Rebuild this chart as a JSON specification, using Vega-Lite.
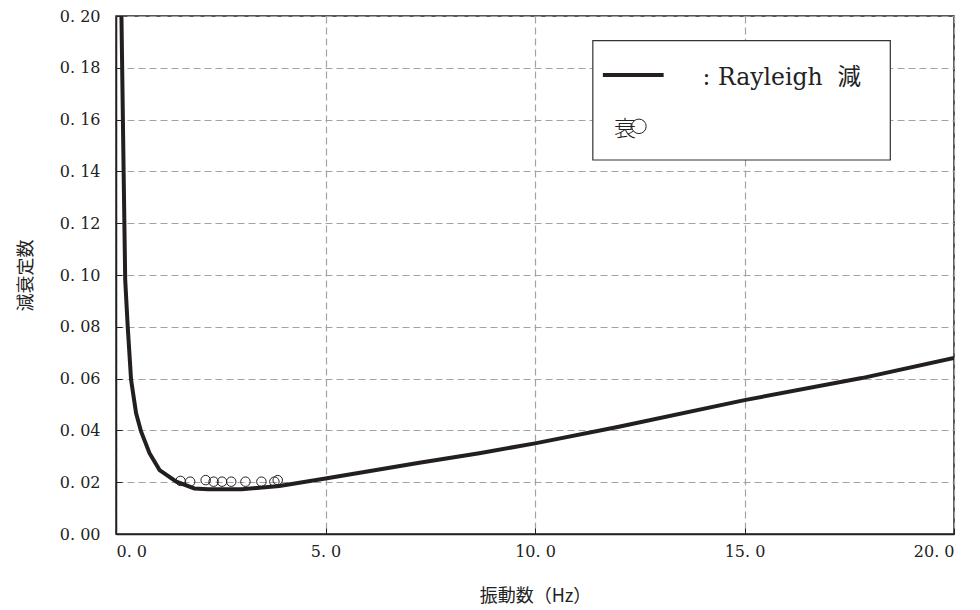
{
  "$schema": "https://vega.github.io/schema/vega-lite/v6.json",
  "autosize": "none",
  "width": 838,
  "height": 518,
  "padding": {"left": 116, "top": 16, "right": 26, "bottom": 76},
  "background": "white",
  "config": {
    "view": {"stroke": "#222", "strokeWidth": 1.5},
    "axis": {
      "labelFont": "DejaVu Serif",
      "labelFontSize": 16,
      "labelColor": "#222",
      "titleFont": "Noto Sans CJK JP",
      "titleFontWeight": "normal",
      "titleFontSize": 18,
      "titleColor": "#222",
      "domainColor": "#222",
      "domainWidth": 1.5,
      "tickColor": "#222",
      "gridColor": "#a3a3a3",
      "gridDash": [7, 4],
      "gridWidth": 1.2
    }
  },
  "datasets": {
    "curve": [
      {"f": 0.13, "h": 0.2},
      {"f": 0.18, "h": 0.142},
      {"f": 0.22, "h": 0.098},
      {"f": 0.28, "h": 0.08},
      {"f": 0.36, "h": 0.0595},
      {"f": 0.48, "h": 0.0466},
      {"f": 0.6, "h": 0.0395},
      {"f": 0.8, "h": 0.0312},
      {"f": 1.04, "h": 0.0247},
      {"f": 1.44, "h": 0.0202},
      {"f": 1.87, "h": 0.0176},
      {"f": 2.2, "h": 0.0173},
      {"f": 3.0, "h": 0.0173},
      {"f": 3.9, "h": 0.0185},
      {"f": 5.0, "h": 0.0214},
      {"f": 7.24, "h": 0.0275},
      {"f": 8.67, "h": 0.0312},
      {"f": 10.0, "h": 0.035},
      {"f": 12.0, "h": 0.0414},
      {"f": 15.0, "h": 0.0517},
      {"f": 17.8, "h": 0.0602},
      {"f": 20.0, "h": 0.068}
    ],
    "obs": [
      {"f": 1.54, "h": 0.0205},
      {"f": 1.77, "h": 0.0202},
      {"f": 2.14, "h": 0.0208},
      {"f": 2.33, "h": 0.0202},
      {"f": 2.53, "h": 0.0202},
      {"f": 2.75, "h": 0.0202},
      {"f": 3.09, "h": 0.0202},
      {"f": 3.47, "h": 0.0202},
      {"f": 3.78, "h": 0.0202},
      {"f": 3.86, "h": 0.0208}
    ]
  },
  "encoding": {
    "x": {
      "type": "quantitative",
      "scale": {"domain": [0, 20], "nice": false},
      "axis": {
        "title": "振動数（Hz）",
        "values": [0, 5, 10, 15, 20],
        "labelExpr": "replace(format(datum.value, '.1f'), '.', '. ')",
        "tickSize": -6,
        "labelPadding": 15,
        "titlePadding": 28
      }
    },
    "y": {
      "type": "quantitative",
      "scale": {"domain": [0, 0.2], "nice": false},
      "axis": {
        "title": "減衰定数",
        "values": [0, 0.02, 0.04, 0.06, 0.08, 0.1, 0.12, 0.14, 0.16, 0.18, 0.2],
        "labelExpr": "replace(format(datum.value, '.2f'), '.', '. ')",
        "tickSize": -6,
        "labelPadding": 22,
        "titlePadding": 24
      }
    }
  },
  "layer": [
    {
      "data": {"name": "curve"},
      "mark": {"type": "line", "color": "#231f20", "strokeWidth": 4, "clip": true},
      "encoding": {"x": {"field": "f"}, "y": {"field": "h"}}
    },
    {
      "data": {"name": "obs"},
      "mark": {"type": "point", "shape": "circle", "filled": false, "stroke": "#231f20", "strokeWidth": 1, "size": 90, "opacity": 1},
      "encoding": {"x": {"field": "f"}, "y": {"field": "h"}}
    },
    {
      "data": {"values": [{}]},
      "mark": {"type": "rect", "fill": "white", "stroke": "#333", "strokeWidth": 1.2},
      "encoding": {"x": {"datum": 11.38}, "x2": {"datum": 18.48}, "y": {"datum": 0.1905}, "y2": {"datum": 0.1444}}
    },
    {
      "data": {"values": [{}]},
      "mark": {"type": "rule", "color": "#231f20", "strokeWidth": 4},
      "encoding": {"x": {"datum": 11.62}, "x2": {"datum": 13.07}, "y": {"datum": 0.1772}}
    },
    {
      "data": {"values": [{}]},
      "mark": {"type": "text", "align": "left", "baseline": "middle", "font": "DejaVu Serif, Noto Sans CJK JP", "fontSize": 23.5, "color": "#222"},
      "encoding": {"x": {"datum": 14.0}, "y": {"datum": 0.1759}, "text": {"value": ":\u00a0Rayleigh\u00a0\u00a0減"}}
    },
    {
      "data": {"values": [{}]},
      "mark": {"type": "text", "align": "center", "baseline": "middle", "font": "Noto Sans CJK JP", "fontSize": 22, "fontWeight": 300, "color": "#222"},
      "encoding": {"x": {"datum": 12.15}, "y": {"datum": 0.1564}, "text": {"value": "衰"}}
    },
    {
      "data": {"values": [{}]},
      "mark": {"type": "point", "shape": "circle", "filled": false, "stroke": "#222", "strokeWidth": 1, "size": 210, "opacity": 1},
      "encoding": {"x": {"datum": 12.48}, "y": {"datum": 0.1574}}
    }
  ]
}
